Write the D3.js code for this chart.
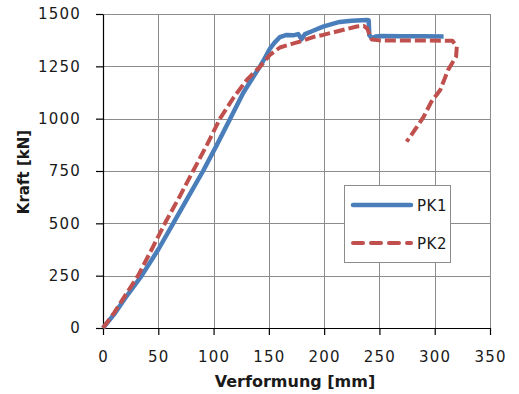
<!DOCTYPE html>
<html>
<head>
<meta charset="utf-8">
<script src="https://cdn.jsdelivr.net/npm/d3@7"></script>
<style>
  html, body { margin: 0; padding: 0; background: #fff; }
  svg { display: block; }
  text { font-family: "DejaVu Sans", sans-serif; fill: #1a1a1a; }
</style>
</head>
<body>
<div id="chart"></div>
<script>
// ---- data ----
const seriesNames = ["PK1", "PK2"];
const xTicks = [0, 50, 100, 150, 200, 250, 300, 350];
const yTicks = [0, 250, 500, 750, 1000, 1250, 1500];
const xLabel = "Verformung [mm]";
const yLabel = "Kraft [kN]";

const pk1X = [0, 10, 20, 35, 50, 63.5, 77, 90.5, 103, 115, 127, 136, 142, 147, 151, 155, 160, 166, 172, 176.5, 179.7, 182.7, 190, 199, 214, 225, 238.5, 240.3, 240.8, 243, 247, 252, 270, 290, 308];
const pk1Y = [0, 65, 142, 250, 375, 500, 625, 750, 875, 1000, 1125, 1200, 1250, 1295, 1335, 1362, 1390, 1400, 1398, 1404, 1380, 1404, 1420, 1440, 1462, 1468, 1471, 1470, 1400, 1384, 1393, 1395, 1394, 1394, 1393];

const pk2X = [0, 10, 20, 31.7, 44, 56, 69, 81.5, 94, 105.8, 118, 130, 142, 151, 160, 170, 178, 190, 199, 214, 229.5, 236, 239, 243, 250, 280, 316, 320, 319.3, 312, 305, 297, 290, 282, 274.6];
const pk2Y = [0, 72, 155, 250, 375, 500, 625, 750, 875, 1000, 1100, 1185, 1248, 1305, 1340, 1356, 1368, 1390, 1400, 1420, 1440, 1443, 1430, 1378, 1374, 1374, 1372, 1344, 1296, 1232, 1137, 1081, 1009, 946, 890];

const colors = ["#4a7ebb", "#c0504d"];

// ---- layout ----
const W = 519, H = 394;
const plot = { left: 103, right: 490, top: 14, bottom: 328 };

const svg = d3.select("#chart").append("svg")
  .attr("width", W).attr("height", H);
svg.append("rect").attr("width", W).attr("height", H).attr("fill", "#fff");

const x = d3.scaleLinear().domain([0, 350]).range([plot.left, plot.right]);
const y = d3.scaleLinear().domain([0, 1500]).range([plot.bottom, plot.top]);

// gridlines
const grid = svg.append("g").attr("stroke", "#8c8c8c").attr("stroke-width", 1);
xTicks.filter(d => d > 0).forEach(d => {
  grid.append("line").attr("x1", Math.round(x(d)) + 0.5).attr("x2", Math.round(x(d)) + 0.5)
    .attr("y1", plot.top).attr("y2", plot.bottom);
});
yTicks.filter(d => d > 0).forEach(d => {
  grid.append("line").attr("y1", Math.round(y(d)) + 0.5).attr("y2", Math.round(y(d)) + 0.5)
    .attr("x1", plot.left).attr("x2", plot.right);
});

// axes
const fmt = d3.format("d");
const xAxis = d3.axisBottom(x).tickValues(xTicks).tickFormat(fmt).tickSize(7).tickPadding(14).tickSizeOuter(0);
const yAxis = d3.axisLeft(y).tickValues(yTicks).tickFormat(fmt).tickSize(7).tickPadding(14).tickSizeOuter(0);

const gx = svg.append("g").attr("transform", `translate(0,${plot.bottom})`).call(xAxis);
const gy = svg.append("g").attr("transform", `translate(${plot.left},0)`).call(yAxis);
[gx, gy].forEach(g => {
  g.select(".domain").attr("stroke", "#000").attr("stroke-width", 1.2);
  g.selectAll(".tick line").attr("stroke", "#000").attr("stroke-width", 1.2);
  g.selectAll(".tick text").attr("font-family", "DejaVu Sans").attr("font-size", 15)
    .attr("letter-spacing", 1.2).attr("fill", "#1a1a1a");
});
gx.selectAll(".tick text").attr("dy", "0.85em");
gy.selectAll(".tick text").attr("dx", "-1px");

// axis titles
svg.append("text").attr("x", 295).attr("y", 387).attr("text-anchor", "middle")
  .attr("font-size", 16).attr("font-weight", "bold").text(xLabel);
svg.append("text").attr("transform", "translate(29,172) rotate(-90)").attr("text-anchor", "middle")
  .attr("font-size", 15).attr("font-weight", "bold").text(yLabel);

// lines
const line = d3.line().x(d => x(d[0])).y(d => y(d[1]));
const pk1 = pk1X.map((v, i) => [v, pk1Y[i]]);
const pk2 = pk2X.map((v, i) => [v, pk2Y[i]]);

svg.append("path").datum(pk1).attr("d", line).attr("fill", "none")
  .attr("stroke", colors[0]).attr("stroke-width", 4.5).attr("stroke-linejoin", "round");
svg.append("path").datum(pk2).attr("d", line).attr("fill", "none")
  .attr("stroke", colors[1]).attr("stroke-width", 4).attr("stroke-dasharray", "11,4")
  .attr("stroke-linejoin", "round");

// legend
const lg = svg.append("g");
lg.append("rect").attr("x", 344.5).attr("y", 185.5).attr("width", 106).attr("height", 77)
  .attr("fill", "#fff").attr("stroke", "#8c8c8c").attr("stroke-width", 1);
const legY = [205, 243];
seriesNames.forEach((name, i) => {
  const l = lg.append("line").attr("x1", 353).attr("x2", 411).attr("y1", legY[i]).attr("y2", legY[i])
    .attr("stroke", colors[i]).attr("stroke-width", i === 0 ? 4.5 : 4).attr("stroke-linecap", "round");
  if (i === 1) l.attr("stroke-dasharray", "10,8");
  lg.append("text").attr("x", 417).attr("y", legY[i] + 6).attr("font-size", 15)
    .attr("letter-spacing", 0.5).text(name);
});
</script>
</body>
</html>
